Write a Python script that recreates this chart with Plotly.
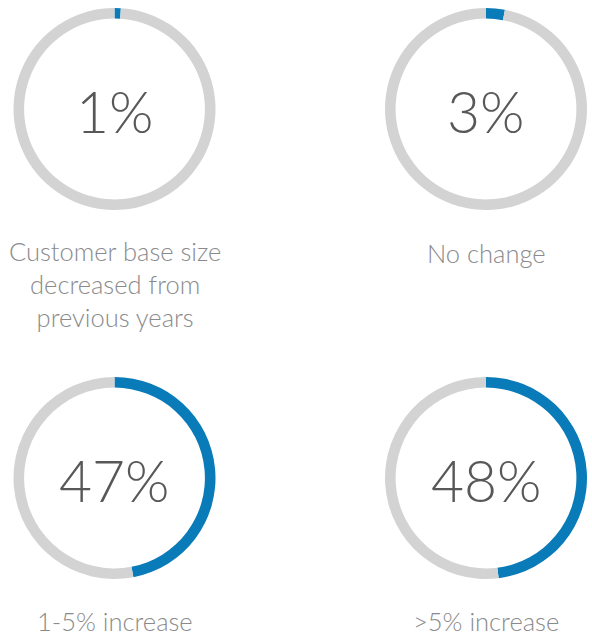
import plotly.graph_objects as go

categories = ["Customer base size<br>decreased from<br>previous years", "No change", "1-5% increase", ">5% increase"]
percentages = [1, 3, 47, 48]

W, H = 592, 637
# circle centers (px, from top-left) and radius
centers = [(114.5, 109), (486, 109), (114.5, 478), (486, 478)]
R = 101
label_y = [284, 253, 621, 621]

BLUE = "#0a7bb9"
RING = "#d3d3d3"

fig = go.Figure()
for (cx, cy), p in zip(centers, percentages):
    fig.add_trace(go.Pie(
        values=[p, 100 - p],
        sort=False,
        direction="clockwise",
        rotation=0,
        hole=0.895,
        marker=dict(colors=[BLUE, RING], line=dict(width=0)),
        textinfo="none",
        hoverinfo="skip",
        showlegend=False,
        domain=dict(x=[(cx - R) / W, (cx + R) / W], y=[1 - (cy + R) / H, 1 - (cy - R) / H]),
    ))

annotations = []
for (cx, cy), p, cat, ly in zip(centers, percentages, categories, label_y):
    annotations.append(dict(
        x=cx / W, y=1 - (cy + 2) / H, xref="paper", yref="paper",
        text=f"{p}%", showarrow=False, xanchor="center", yanchor="middle",
        font=dict(family="Lato", size=57, color="#58585a", weight=300),
    ))
    annotations.append(dict(
        x=cx / W, y=1 - ly / H, xref="paper", yref="paper",
        text=cat, showarrow=False, xanchor="center", yanchor="middle",
        font=dict(family="Lato", size=25.5, color="#8a8a8c", weight=300),
    ))

fig.update_layout(
    width=W, height=H,
    margin=dict(l=0, r=0, t=0, b=0),
    paper_bgcolor="white", plot_bgcolor="white",
    annotations=annotations,
)
fig.write_html("out.html", config={"displayModeBar": False},
               post_script="document.body.style.margin='0';")
